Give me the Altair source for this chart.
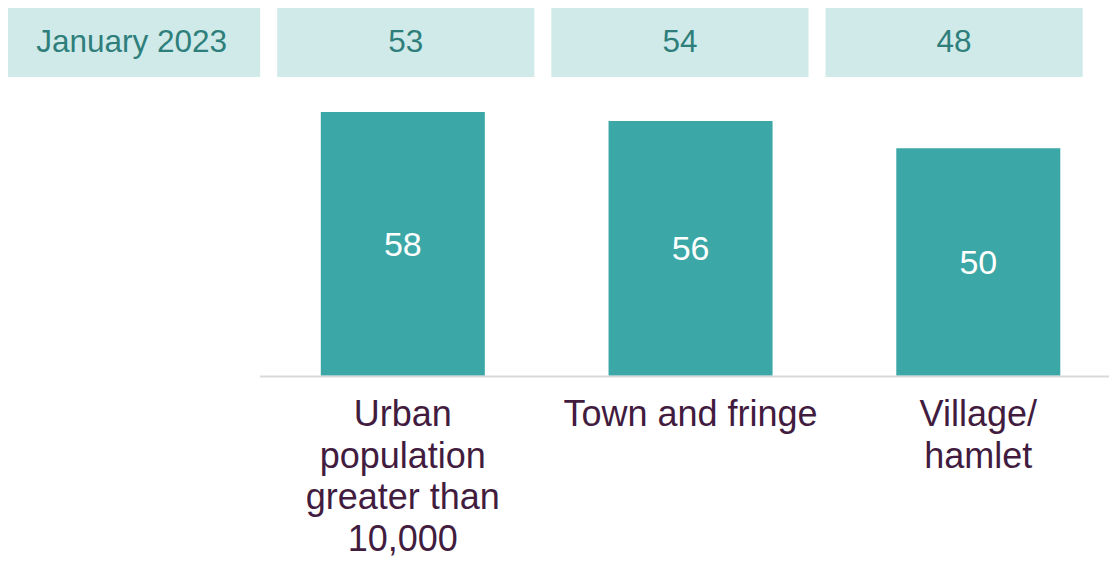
import altair as alt
import pandas as pd

# ---- data ----
categories = ["Urban population greater than 10,000", "Town and fringe", "Village/hamlet"]
category_labels = ["Urban\npopulation\ngreater than\n10,000", "Town and fringe", "Village/\nhamlet"]
current_values = [58, 56, 50]
header_title = "January 2023"
jan2023_values = [53, 54, 48]

FONT = "Liberation Sans"
BAR_COLOR = "#3BA7A6"
HEADER_BG = "#D0EAE9"
HEADER_TEXT = "#2E7F7B"
LABEL_COLOR = "#421C3F"

bars_df = pd.DataFrame({"cat": categories, "value": current_values, "label": category_labels})
header_cols = [header_title] + categories
header_df = pd.DataFrame({"col": header_cols,
                          "text": [header_title] + [str(v) for v in jan2023_values]})
base_df = pd.DataFrame({"k": [0]})

# ---- header strip ----
hx = alt.X("col:N", sort=header_cols, axis=None,
           scale=alt.Scale(range=[-5, 1074.7], paddingInner=0.062, paddingOuter=0))
h_rect = alt.Chart(header_df).mark_rect(color=HEADER_BG).encode(
    x=hx, y=alt.value(-5), y2=alt.value(69))
h_text = alt.Chart(header_df).mark_text(font=FONT, fontSize=31.5, color=HEADER_TEXT,
                                        baseline="middle", align="center").encode(
    x=hx, y=alt.value(34.5), text="text:N")
header = alt.layer(h_rect, h_text)

# ---- bars ----
bx = alt.X("cat:N", sort=categories, axis=None,
           scale=alt.Scale(range=[312.8, 1052.3], paddingInner=0.43, paddingOuter=0))
yscale = alt.Scale(domain=[0, 58], range=[367.7, 104], nice=False, zero=True)

base_rule = alt.Chart(base_df).mark_rule(color="#D9D9D9", strokeWidth=2).encode(
    x=alt.value(252), x2=alt.value(1101), y=alt.value(368.5))
bar = alt.Chart(bars_df).mark_bar(color=BAR_COLOR).encode(
    x=bx, y=alt.Y("value:Q", scale=yscale, axis=None))
bar_text = alt.Chart(bars_df).transform_calculate(mid="datum.value / 2").mark_text(
    font=FONT, fontSize=34, color="white", baseline="middle", align="center", dy=2).encode(
    x=bx, y=alt.Y("mid:Q", scale=yscale, axis=None), text="value:Q")
cat_text = alt.Chart(bars_df).mark_text(
    font=FONT, fontSize=36, color=LABEL_COLOR, baseline="alphabetic", align="center",
    lineBreak="\n", lineHeight=41.5).encode(
    x=bx, y=alt.value(418), text="label:N")
bars = alt.layer(bar, base_rule, bar_text, cat_text)

chart = alt.layer(header, bars).resolve_scale(x="independent").properties(
    width=1101, height=551, padding=0,
    autosize=alt.AutoSizeParams(type="none"),
).configure_view(stroke=None)

chart.save("out.html", embed_options={"renderer": "svg", "actions": False})
